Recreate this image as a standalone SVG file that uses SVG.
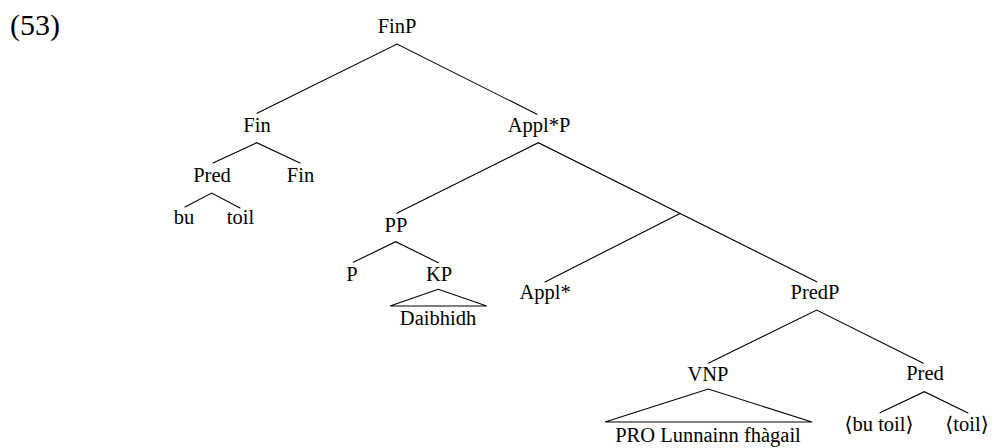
<svg xmlns="http://www.w3.org/2000/svg" width="992" height="448" viewBox="0 0 992 448">
  <style>
    text { font-family: "Liberation Serif", "DejaVu Serif", serif; font-size: 20.5px; fill: #000; text-anchor: middle; }
    .num { font-size: 30px; text-anchor: start; }
    .edge { stroke: #000; stroke-width: 1.1; fill: none; stroke-linecap: round; }
  </style>
  <rect width="992" height="448" fill="#fff"/>

  <text class="num" x="10" y="35">(53)</text>

  <!-- tree branches -->
  <g id="connectors">
    <path class="edge" d="M257,113.3 L397,44 L537,114.3"/>
    <path class="edge" d="M213,163 L256.7,142.7 L300,163"/>
    <path class="edge" d="M185,207 L211.7,193 L240,208"/>
    <path class="edge" d="M396.7,213.3 L538.3,142.7 L816.7,281.7"/>
    <path class="edge" d="M545,282 L680,213.4"/>
    <path class="edge" d="M353.3,262.3 L395.7,241.7 L438.3,262.7"/>
    <path class="edge" d="M708.3,363.3 L816.7,310 L923.3,363.3"/>
    <path class="edge" d="M880,412.7 L924.3,391.7 L968,413"/>
    <!-- roof over collapsed constituents -->
    <path class="edge" d="M390,306 L438.3,289.3 L486.7,306 Z" stroke-linejoin="miter"/>
    <path class="edge" d="M605,422 L708.3,389 L812,422 Z" stroke-linejoin="miter"/>
  </g>

  <g id="FinP"><text x="397" y="33">FinP</text></g>
  <g id="Fin"><text x="257" y="132">Fin</text></g>
  <g id="ApplStarP"><text x="539" y="132">Appl*P</text></g>
  <g id="Pred1"><text x="212" y="182">Pred</text></g>
  <g id="Fin2"><text x="300.5" y="182">Fin</text></g>
  <g id="bu"><text x="184" y="224">bu</text></g>
  <g id="toil"><text x="240.5" y="224">toil</text></g>
  <g id="PP"><text x="396" y="231.5">PP</text></g>
  <g id="P"><text x="352" y="281">P</text></g>
  <g id="KP"><text x="439" y="281">KP</text></g>
  <g id="Daibhidh"><text x="438" y="325">Daibhidh</text></g>
  <g id="ApplStar"><text x="545" y="299">Appl*</text></g>
  <g id="PredP"><text x="815" y="299">PredP</text></g>
  <g id="VNP"><text x="708" y="381">VNP</text></g>
  <g id="Pred2"><text x="925" y="380">Pred</text></g>
  <g id="PRO"><text x="708" y="442">PRO Lunnainn fhàgail</text></g>
  <g id="buToilCopy"><text x="879" y="431">⟨bu toil⟩</text></g>
  <g id="toilCopy"><text x="967" y="431">⟨toil⟩</text></g>
</svg>
